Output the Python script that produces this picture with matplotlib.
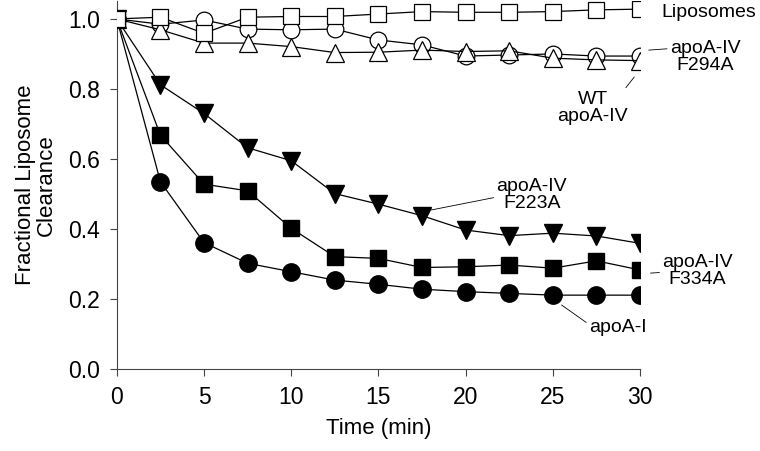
import matplotlib.pyplot as plt

plt.rcParams['font.family'] = ['Liberation Sans', 'DejaVu Sans']

time = [0, 2.5, 5, 7.5, 10, 12.5, 15, 17.5, 20, 22.5, 25, 27.5, 30]

liposomes = [1.0, 1.005, 0.959, 1.005, 1.007, 1.007, 1.014, 1.021, 1.019, 1.019, 1.021, 1.026, 1.028]
f294a = [1.0, 0.985, 0.997, 0.971, 0.969, 0.971, 0.940, 0.926, 0.894, 0.897, 0.900, 0.894, 0.894]
wt_apoa4 = [1.0, 0.969, 0.931, 0.931, 0.921, 0.904, 0.905, 0.911, 0.907, 0.909, 0.888, 0.883, 0.881]
f223a = [1.0, 0.812, 0.730, 0.632, 0.595, 0.501, 0.471, 0.438, 0.397, 0.381, 0.388, 0.380, 0.359]
f334a = [1.0, 0.668, 0.528, 0.509, 0.402, 0.321, 0.316, 0.290, 0.292, 0.297, 0.288, 0.309, 0.283]
apoa1 = [1.0, 0.535, 0.361, 0.302, 0.278, 0.254, 0.242, 0.228, 0.221, 0.216, 0.211, 0.211, 0.211]

fig = plt.figure(figsize=(7.6, 4.51), dpi=100)
ax = fig.add_axes([0.1537, 0.1818, 0.6884, 0.815])

lw = 0.9
# open symbols: circles under triangles under squares
ax.plot(time, f294a, color='black', lw=lw, marker='o', ms=12, mfc='white', mec='black', mew=0.9, zorder=3)
ax.plot(time, wt_apoa4, color='black', lw=lw, marker='^', ms=12.5, mfc='white', mec='black', mew=0.9, zorder=4)
ax.plot(time, liposomes, color='black', lw=lw, marker='s', ms=11, mfc='white', mec='black', mew=0.9, zorder=5)
# filled symbols
ax.plot(time, f223a, color='black', lw=lw, marker='v', ms=12.5, mfc='black', mec='black', zorder=3)
ax.plot(time, f334a, color='black', lw=lw, marker='s', ms=11, mfc='black', mec='black', zorder=3)
ax.plot(time, apoa1, color='black', lw=lw, marker='o', ms=12.5, mfc='black', mec='black', zorder=3)

ax.set_xlim(0, 30)
ax.set_ylim(0, 1.05)
ax.set_xticks([0, 5, 10, 15, 20, 25, 30])
ax.set_yticks([0.0, 0.2, 0.4, 0.6, 0.8, 1.0])
ax.set_yticklabels(['0.0', '0.2', '0.4', '0.6', '0.8', '1.0'])
ax.tick_params(direction='out', length=5, width=0.8, labelsize=16.5, color='#444444')
ax.tick_params(axis='y', pad=7)
ax.tick_params(axis='x', pad=7)
ax.spines['top'].set_visible(False)
ax.spines['right'].set_visible(False)
for s in ['left', 'bottom']:
    ax.spines[s].set_linewidth(0.8)
    ax.spines[s].set_color('#444444')

ax.set_xlabel('Time (min)', fontsize=16, labelpad=7)
ax.set_ylabel('Fractional Liposome\nClearance', fontsize=16, labelpad=8, linespacing=1.0)

# series labels with leader lines
fs = 14
line = dict(arrowstyle='-', lw=0.6, color='black', shrinkA=0, shrinkB=0)
ax.text(31.2, 1.017, 'Liposomes', fontsize=fs, va='center', ha='left', clip_on=False)
ax.annotate('apoA-IV\nF294A', xy=(30.5, 0.911), xytext=(33.73, 0.891), fontsize=fs, ha='center', va='center',
            linespacing=1.0, annotation_clip=False,
            arrowprops=dict(line, relpos=(0.0, 0.75)))
ax.annotate('WT\napoA-IV', xy=(29.67, 0.834), xytext=(27.3, 0.747), fontsize=fs, ha='center', va='center',
            linespacing=1.0,
            arrowprops=dict(line, relpos=(0.81, 0.67)))
ax.annotate('apoA-IV\nF223A', xy=(18.0, 0.454), xytext=(23.8, 0.496), fontsize=fs, ha='center', va='center',
            linespacing=1.0,
            arrowprops=dict(line, relpos=(0.0, 0.45)))
ax.annotate('apoA-IV\nF334A', xy=(30.6, 0.274), xytext=(33.3, 0.28), fontsize=fs, ha='center', va='center',
            linespacing=1.0, annotation_clip=False,
            arrowprops=dict(line, relpos=(0.0, 0.46)))
ax.annotate('apoA-I', xy=(25.5, 0.183), xytext=(28.73, 0.12), fontsize=fs, ha='center', va='center',
            arrowprops=dict(line, relpos=(0.0, 0.65)))

fig.savefig('out.png', dpi=100)
